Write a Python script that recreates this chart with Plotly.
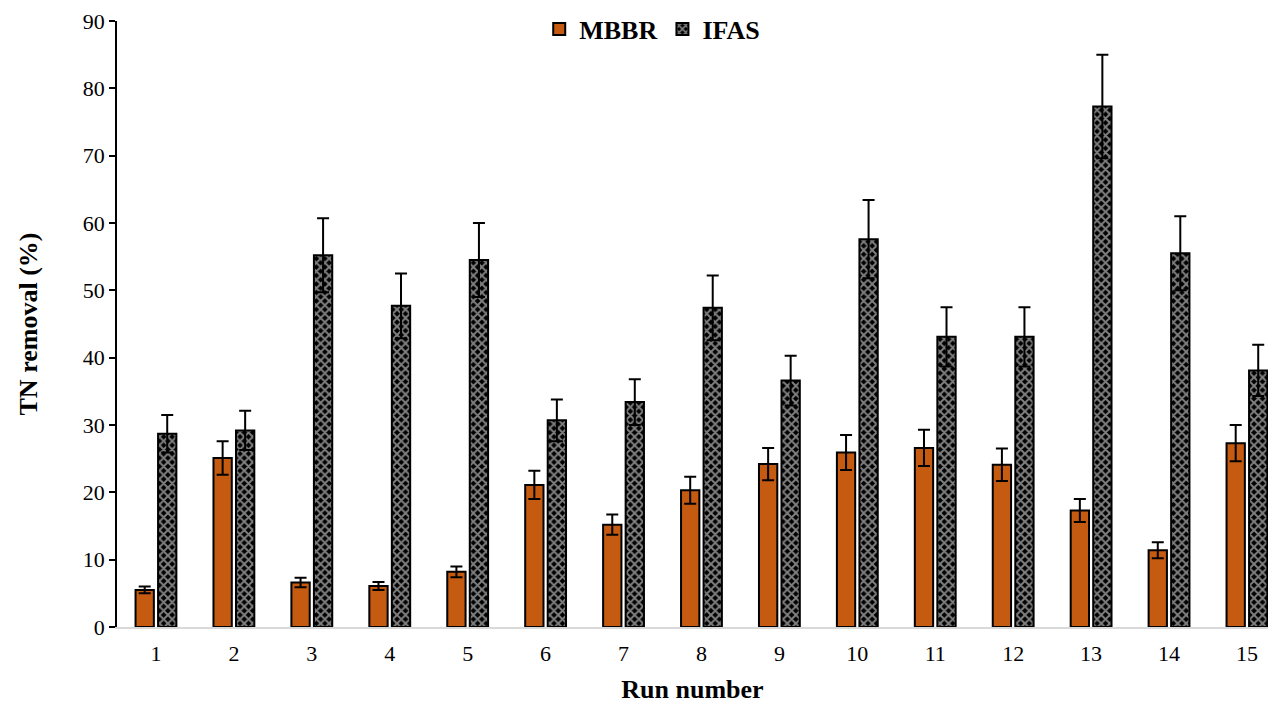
import plotly.graph_objects as go

# TN removal (%) per run for the two reactor configurations
runs = list(range(1, 16))
mbbr = [5.5, 25.1, 6.6, 6.1, 8.2, 21.1, 15.2, 20.3, 24.2, 25.9, 26.6, 24.1, 17.3, 11.4, 27.3]
mbbr_err = [0.5, 2.5, 0.7, 0.6, 0.8, 2.1, 1.5, 2.0, 2.4, 2.6, 2.7, 2.4, 1.7, 1.2, 2.7]
ifas = [28.7, 29.2, 55.2, 47.7, 54.5, 30.7, 33.4, 47.4, 36.6, 57.6, 43.1, 43.1, 77.3, 55.5, 38.1]
ifas_err = [2.8, 2.9, 5.5, 4.8, 5.5, 3.1, 3.4, 4.8, 3.7, 5.8, 4.4, 4.4, 7.7, 5.5, 3.8]

SERIF = "Liberation Serif, Times New Roman, serif"

fig = go.Figure()
fig.add_trace(go.Bar(
    x=runs, y=mbbr, name="MBBR",
    width=0.235, offset=-0.262,
    marker=dict(color="#c55a11", line=dict(color="black", width=2)),
    error_y=dict(type="data", array=mbbr_err, color="black", thickness=2, width=6),
))
fig.add_trace(go.Bar(
    x=runs, y=ifas, name="IFAS",
    width=0.235, offset=0.027,
    marker=dict(
        color="black",
        line=dict(color="black", width=2),
        pattern=dict(shape="x", fgcolor="white", bgcolor="black", size=6, solidity=0.55),
    ),
    error_y=dict(type="data", array=ifas_err, color="black", thickness=2, width=6),
))

fig.update_layout(
    width=1275, height=704,
    margin=dict(l=117, r=7, t=20, b=77),
    paper_bgcolor="white", plot_bgcolor="white",
    font=dict(family=SERIF, color="black"),
    showlegend=True,
    legend=dict(
        orientation="h", x=0.465, xanchor="center", y=0.985, yanchor="middle",
        font=dict(family=SERIF, size=26, color="black", weight="bold"),
        bgcolor="rgba(0,0,0,0)", itemwidth=30,
    ),
    barmode="overlay",
)
fig.update_xaxes(
    range=[0.5, 15.27],
    automargin=False,
    tickmode="array", tickvals=runs, ticktext=[str(r) for r in runs],
    showline=True, linecolor="#d9d9d9", linewidth=1.5,
    showgrid=False, zeroline=False, ticks="",
    ticklabelstandoff=6,
    tickfont=dict(family=SERIF, size=22, color="black"),
    title=dict(text="Run number", font=dict(family=SERIF, size=26, color="black", weight="bold"), standoff=16),
)
fig.update_yaxes(
    range=[0, 90], dtick=10,
    automargin=False,
    showline=True, linecolor="black", linewidth=1.5,
    ticks="outside", ticklen=6, tickcolor="black", tickwidth=1.5,
    showgrid=False, zeroline=False,
    tickfont=dict(family=SERIF, size=22, color="black"),
    title=dict(text="TN removal (%)", font=dict(family=SERIF, size=26, color="black", weight="bold"), standoff=38),
)

fig.write_html("out.html")
